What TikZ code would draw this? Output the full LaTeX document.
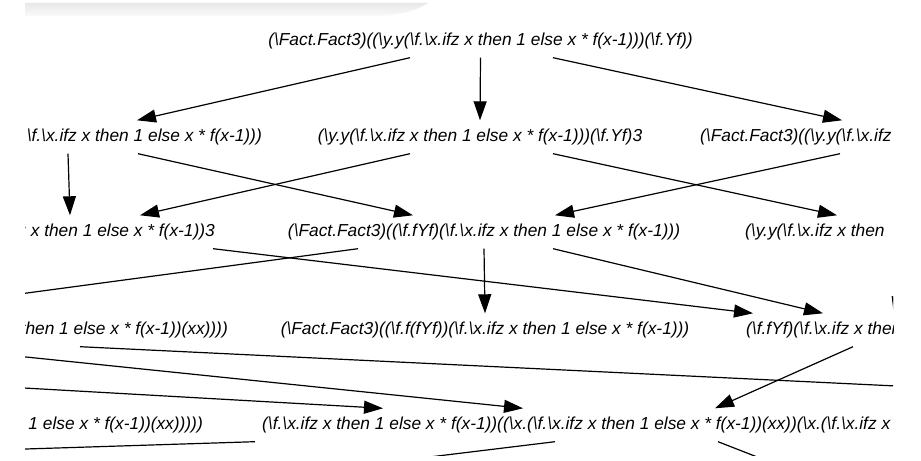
\documentclass[tikz,border=0pt]{standalone}
\usepackage{fontspec}
\setmainfont{Liberation Sans}
\usetikzlibrary{arrows.meta}
\newcommand{\lam}{\textbackslash}
\tikzset{
  term/.style={font=\itshape\fontsize{17.4}{20}\selectfont,inner xsep=0pt,inner ysep=0pt,
               minimum height=33bp},
  betastep/.style={-{Triangle[length=19bp,width=13bp]},line width=1.2bp},
}

\begin{document}
\begin{tikzpicture}[x=1bp,y=-1bp]
  \path[use as bounding box,fill=white] (0,0) rectangle (921,461);
  \begin{scope}
  \clip (25,0) rectangle (893,455);
  \shade[top color=black!9,bottom color=black!2]
    (25,3) -- (428,3) .. controls (414,12) and (396,16) .. (372,16) -- (25,16) -- cycle;

  % reduction terms
  \node[term] (root) at (480.5,41)
    {(\lam Fact.Fact3)((\lam y.y(\lam f.\lam x.ifz x then 1 else x * f(x-1)))(\lam f.Yf))};

  \node[term,anchor=east] (lft1) at (262,137) {\lam f.\lam x.ifz x then 1 else x * f(x-1)))};
  \node[term] (mid1) at (480,137) {(\lam y.y(\lam f.\lam x.ifz x then 1 else x * f(x-1)))(\lam f.Yf)3};
  \node[term,anchor=west] (rgt1) at (700,137) {(\lam Fact.Fact3)((\lam y.y(\lam f.\lam x.ifz};

  \node[term,anchor=east] (lft2) at (215,232) {z x then 1 else x * f(x-1))3};
  \node[term] (mid2) at (484,232) {(\lam Fact.Fact3)((\lam f.fYf)(\lam f.\lam x.ifz x then 1 else x * f(x-1)))};
  \node[term,anchor=west] (rgt2) at (745,232) {(\lam y.y(\lam f.\lam x.ifz x then};

  \node[term,anchor=east] (lft3) at (228,330) {then 1 else x * f(x-1))(xx))))};
  \node[term] (mid3) at (485,330) {(\lam Fact.Fact3)((\lam f.f(fYf))(\lam f.\lam x.ifz x then 1 else x * f(x-1)))};
  \node[term,anchor=west] (rgt3) at (746,330) {(\lam f.fYf)(\lam f.\lam x.ifz x then};

  \node[term,anchor=east] (lft4) at (203,425) {n 1 else x * f(x-1))(xx)))))};
  \node[term,anchor=west] (bot) at (262,425)
    {(\lam f.\lam x.ifz x then 1 else x * f(x-1))((\lam x.(\lam f.\lam x.ifz x then 1 else x * f(x-1))(xx))(\lam x.(\lam f.\lam x.ifz x};

  % ends outside the view
  \coordinate (offA) at (-100,310);
  \coordinate (offB) at (894,316);
  \coordinate (offC) at (1000,391);
  \coordinate (offD) at (-100,344);
  \coordinate (offE) at (-100,381);
  \coordinate (offF) at (-100,453);
  \coordinate (offG) at (331,469);
  \coordinate (offH) at (788,469);

  % reductions
  \draw[betastep] ([xshift=-70.5bp]root.south) -- ([xshift=-125bp]lft1.north east);
  \draw[betastep] (root.south) -- (mid1.north);
  \draw[betastep] ([xshift=72.5bp]root.south) -- ([xshift=142bp]rgt1.north west);

  \draw[betastep] ([xshift=-194bp]lft1.south east) -- ([xshift=-145bp]lft2.north east);
  \draw[betastep] ([xshift=-124bp]lft1.south east) -- ([xshift=-71bp]mid2.north);
  \draw[betastep] ([xshift=-70bp]mid1.south) -- ([xshift=-75bp]lft2.north east);
  \draw[betastep] ([xshift=73bp]mid1.south) -- ([xshift=92bp]rgt2.north west);
  \draw[betastep] ([xshift=140bp]rgt1.south west) -- ([xshift=71bp]mid2.north);

  \draw[betastep] ([xshift=-2bp]lft2.south east) -- ([xshift=7bp]rgt3.north west);
  \draw[betastep] ([xshift=-126bp]mid2.south) -- (offA);
  \draw[betastep] (mid2.south) -- (mid3.north);
  \draw[betastep] ([xshift=69bp]mid2.south) -- ([xshift=77bp]rgt3.north west);
  \draw[betastep] ([xshift=164bp]rgt2.south west) -- (offB);

  \draw[betastep] ([xshift=-148bp]lft3.south east) -- (offC);
  \draw[betastep] (offD) -- ([xshift=261bp]bot.north west);
  \draw[betastep] (offE) -- ([xshift=121bp]bot.north west);
  \draw[betastep] ([xshift=107bp]rgt3.south west) -- ([xshift=453bp]bot.north west);

  \draw[betastep] ([xshift=-7bp]bot.south west) -- (offF);
  \draw[betastep] ([xshift=293bp]bot.south west) -- (offG);
  \draw[betastep] ([xshift=456bp]bot.south west) -- (offH);
  \end{scope}
\end{tikzpicture}
\end{document}
